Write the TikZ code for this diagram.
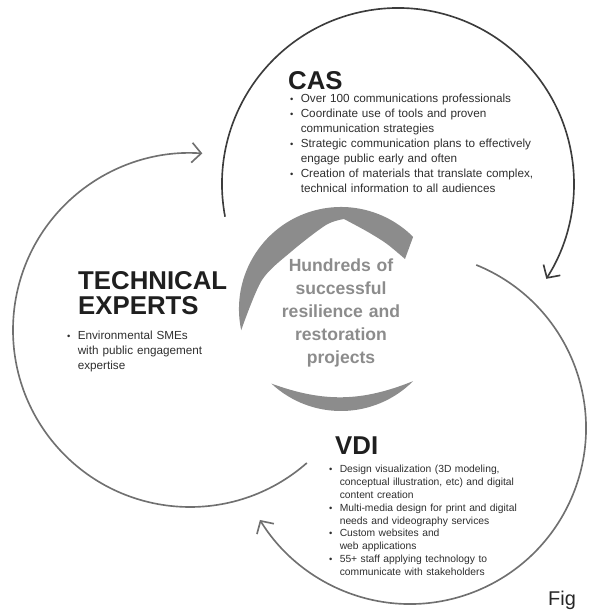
\documentclass[tikz,border=0pt]{standalone}
\usepackage{fontspec}
\setmainfont{Liberation Sans}
\usepackage{tikz}
\usetikzlibrary{arrows,arrows.meta,positioning,calc}

\definecolor{ringgray}{HTML}{8C8C8C}
\definecolor{textgray}{HTML}{2E2E2E}
\definecolor{loopdark}{HTML}{3C3C3C}
\definecolor{loopgray}{HTML}{707070}

\newcommand{\blitem}[1]{\hangindent=9pt\hangafter=1\makebox[9pt][l]{\footnotesize\textbullet}#1\par}

\begin{document}
\begin{tikzpicture}[x=0.03cm,y=0.03cm,
  cycleline/.style={line width=1.4pt,draw=loopgray,-{Straight Barb[length=8pt,width=17pt]}},
  teamtitle/.style={anchor=base west,inner sep=0pt,text width=6cm,align=left,text=black!88,font=\fontsize{22}{21}\selectfont\bfseries},
  teamlist/.style={anchor=base west,inner sep=0pt,text width=8cm,align=left,text=textgray,font=\fontsize{10}{12.8}\selectfont},
  hub/.style={anchor=base,inner sep=0pt,text width=4.4cm,align=center,text=ringgray,font=\fontsize{15}{19.5}\selectfont\bfseries}]
\useasboundingbox (0,0) rectangle (590,611);

% centres of the three loops and of the hub
\coordinate (cas) at (398,427);
\coordinate (tech) at (190,281);
\coordinate (vdi) at (410,183);
\coordinate (hubc) at (341,302);

% the three loops
\draw[cycleline,draw=loopdark] (cas) ++(190.7:5.28cm) arc[start angle=190.7,end angle=-32.6,radius=5.28cm];
\draw[cycleline] (tech) ++(-48.7:5.31cm) arc[start angle=-48.7,end angle=-274,radius=5.31cm];
\draw[cycleline] (vdi) ++(67.9:5.28cm) arc[start angle=67.9,end angle=-148.5,radius=5.28cm];

% grey ring round the hub
\fill[ringgray] (241.2,280.8) arc[start angle=192,end angle=45,radius=3.06cm]
  -- (405,352)
  -- plot[smooth] coordinates {(405,352) (387,367) (368,379) (344,392)}
  -- plot[smooth] coordinates {(344,392) (326,386) (292,360) (262,331) (241.2,280.8)} -- cycle;
\fill[ringgray] (271.4,227.4) arc[start angle=227,end angle=315,radius=3.06cm]
  to[bend left=21] (271.4,227.4) -- cycle;

\node[hub] (hubtext) at (341,339) {Hundreds of\\ successful\\ resilience and\\ restoration\\ projects};

% CAS
\node[teamtitle] (castitle) at (288,521) {CAS};
\node[teamlist] (caslist) at (290,508) {%
\blitem{Over 100 communications professionals}%
\blitem{Coordinate use of tools and proven\newline communication strategies}%
\blitem{Strategic communication plans to effectively\newline engage public early and often}%
\blitem{Creation of materials that translate complex,\newline technical information to all audiences}};

% technical experts
\node[teamtitle] (techtitle) at (78,321) {TECHNICAL\\ EXPERTS};
\node[teamlist] (techlist) at (67,271) {%
\blitem{Environmental SMEs\newline with public engagement\newline expertise}};

% VDI
\node[teamtitle] (vdititle) at (335,156) {VDI};
\node[teamlist,font=\fontsize{8.8}{10.9}\selectfont] (vdilist) at (329,138) {%
\blitem{Design visualization (3D modeling,\newline conceptual illustration, etc) and digital\newline content creation}%
\blitem{Multi-media design for print and digital\newline needs and videography services}%
\blitem{Custom websites and\newline web applications}%
\blitem{55+ staff applying technology to\newline communicate with stakeholders}};

\node[anchor=base west,inner sep=0pt,font=\fontsize{17}{20}\selectfont,text=black!85] (fig) at (548,5) {Fig};
\end{tikzpicture}
\end{document}
